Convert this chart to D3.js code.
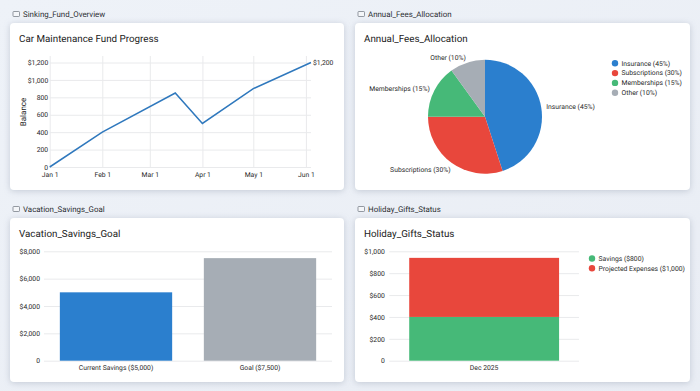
<!DOCTYPE html>
<html>
<head>
<meta charset="utf-8">
<script src="https://cdn.jsdelivr.net/npm/d3@7"></script>
<style>
    html, body { margin: 0; padding: 0; width: 700px; height: 391px; overflow: hidden; background: #edf1f7; }
    svg { display: block; }
    svg text { font-family: Roboto, sans-serif; text-rendering: geometricPrecision; }
    .card { fill: #fff; filter: drop-shadow(0 1px 3px rgba(90, 105, 130, 0.28)); }
    .panel-label { font-size: 7.9px; fill: #2c2f33; }
    .card-title { font-size: 9.8px; fill: #222; }
    .tick text, .small { font-size: 6.8px; fill: #2a2a2a; }
    .tick line { stroke: #e9eaec; stroke-width: 1; }
    .domain { display: none; }
</style>
</head>
<body>
<svg width="700" height="391"></svg>
<script>
const blue = "#2b7fce";
const red = "#e8473c";
const green = "#46b978";
const gray = "#a6adb5";

const panelLabels = ["Sinking_Fund_Overview", "Annual_Fees_Allocation", "Vacation_Savings_Goal", "Holiday_Gifts_Status"];
const cardTitles = ["Car Maintenance Fund Progress", "Annual_Fees_Allocation", "Vacation_Savings_Goal", "Holiday_Gifts_Status"];

const lineDates = ["2025-01-01", "2025-02-01", "2025-03-16", "2025-04-01", "2025-05-01", "2025-06-04"];
const lineValues = [0, 400, 850, 500, 900, 1200];
const lineTickDates = ["2025-01-01", "2025-02-01", "2025-03-01", "2025-04-01", "2025-05-01", "2025-06-01"];
const lineTickLabels = ["Jan 1", "Feb 1", "Mar 1", "Apr 1", "May 1", "Jun 1"];
const lineYTicks = [0, 200, 400, 600, 800, 1000, 1200];
const lineYLabels = ["0", "200", "400", "600", "800", "$1,000", "$1,200"];

const pieNames = ["Insurance (45%)", "Subscriptions (30%)", "Memberships (15%)", "Other (10%)"];
const pieValues = [45, 30, 15, 10];
const pieColors = [blue, red, green, gray];

const barNames = ["Current Savings ($5,000)", "Goal ($7,500)"];
const barValues = [5000, 7500];
const barColors = [blue, gray];
const barYTicks = [0, 2000, 4000, 6000, 8000];
const barYLabels = ["0", "$2,000", "$4,000", "$6,000", "$8,000"];

const stackCategory = ["Dec 2025"];
const stackSavings = [400];
const stackExpenses = [540];
const stackNames = ["Savings ($800)", "Projected Expenses ($1,000)"];
const stackColors = [green, red];
const stackYTicks = [0, 200, 400, 600, 800, 1000];
const stackYLabels = ["0", "$200", "$400", "$600", "$800", "$1,000"];

const svg = d3.select("svg");
const parseDay = d3.timeParse("%Y-%m-%d");

const defs = svg.append("defs");
const bg = defs.append("linearGradient").attr("id", "bg").attr("x1", 0).attr("y1", 0).attr("x2", 1).attr("y2", 1);
bg.append("stop").attr("offset", 0).attr("stop-color", "#eef2f8");
bg.append("stop").attr("offset", 1).attr("stop-color", "#e9edf4");
svg.append("rect").attr("width", 700).attr("height", 391).attr("fill", "url(#bg)");

const panels = [
    { x: 10, y: 23, w: 334, h: 167 },
    { x: 355, y: 23, w: 335, h: 167 },
    { x: 10, y: 218, w: 334, h: 164 },
    { x: 355, y: 218, w: 335, h: 164 }
];

panels.forEach((p, i) => {
    svg.append("rect").attr("class", "card")
        .attr("x", p.x).attr("y", p.y).attr("width", p.w).attr("height", p.h).attr("rx", 4);
    // small window icon in front of the label
    const iy = p.y - 11.5;
    svg.append("rect").attr("x", p.x + 3).attr("y", iy).attr("width", 6.5).attr("height", 5)
        .attr("rx", 0.8).attr("fill", "#f4f6f9").attr("stroke", "#6a717b").attr("stroke-width", 0.7);
    svg.append("text").attr("class", "panel-label")
        .attr("x", p.x + 13).attr("y", p.y - 6.2).text(panelLabels[i]);
    svg.append("text").attr("class", "card-title")
        .attr("x", p.x + 9).attr("y", p.y + 18.5).text(cardTitles[i]);
});

function labelFrom(ticks, labels) {
    return d => labels[ticks.indexOf(d)];
}

function drawYAxis(scaleY, ticks, labels, left, right, padding) {
    svg.append("g")
        .attr("transform", `translate(${left},0)`)
        .call(d3.axisLeft(scaleY)
            .tickValues(ticks)
            .tickSize(-(right - left))
            .tickPadding(padding)
            .tickFormat(labelFrom(ticks, labels)));
}

function drawLineChart() {
    const dates = lineDates.map(parseDay);
    const tickDates = lineTickDates.map(parseDay);
    const scX = d3.scaleTime()
        .domain([dates[0], dates[dates.length - 1]])
        .range([49.7, 311]);
    const scY = d3.scaleLinear().domain([0, 1200]).range([167, 62.5]);
    const top = 56;

    svg.append("g")
        .attr("transform", "translate(0,167)")
        .call(d3.axisBottom(scX)
            .tickValues(tickDates)
            .tickSize(-(167 - top))
            .tickPadding(5)
            .tickFormat((d, i) => lineTickLabels[i]));

    drawYAxis(scY, lineYTicks, lineYLabels, 49.7, 311, 1.5);

    const lineF = d3.line()
        .x((d, i) => scX(dates[i]))
        .y(d => scY(d));

    svg.append("path")
        .datum(lineValues)
        .attr("d", lineF)
        .attr("fill", "none")
        .attr("stroke", "#2f78bd")
        .attr("stroke-width", 1.5);

    svg.append("text").attr("class", "small")
        .attr("x", 313).attr("y", scY(1200)).attr("dy", "0.35em").text("$1,200");

    svg.append("text")
        .attr("transform", "translate(25.5,112) rotate(-90)")
        .attr("text-anchor", "middle")
        .attr("font-size", 8)
        .attr("fill", "#222")
        .text("Balance");
}

function drawPieChart() {
    const cx = 485, cy = 116.7, radius = 57;
    const arcs = d3.pie().sort(null)(pieValues);
    const arcF = d3.arc().innerRadius(0).outerRadius(radius);
    const labelArc = d3.arc().innerRadius(62).outerRadius(62);

    const g = svg.append("g").attr("transform", `translate(${cx},${cy})`);
    g.selectAll("path")
        .data(arcs)
        .enter()
        .append("path")
        .attr("d", arcF)
        .attr("fill", (d, i) => pieColors[i]);

    g.selectAll("text")
        .data(arcs)
        .enter()
        .append("text")
        .attr("class", "small")
        .attr("transform", d => {
            const [x, y] = labelArc.centroid(d);
            // labels under the pie sit a little lower and closer in
            return y > 20 ? `translate(${x + 2},${y + 2.5})` : `translate(${x},${y})`;
        })
        .attr("dy", "0.35em")
        .attr("text-anchor", d => (d.startAngle + d.endAngle) / 2 < Math.PI ? "start" : "end")
        .text((d, i) => pieNames[i]);

    drawLegend(pieNames, pieColors, 615, 63.3, 9.8);
}

function drawLegend(names, legendColors, x, y, step) {
    names.forEach((name, i) => {
        svg.append("circle")
            .attr("cx", x).attr("cy", y + i * step).attr("r", 3.2)
            .attr("fill", legendColors[i]);
        svg.append("text").attr("class", "small")
            .attr("x", x + 6.5).attr("y", y + i * step).attr("dy", "0.35em")
            .text(name);
    });
}

function drawBarChart() {
    const left = 44, right = 332;
    const scX = d3.scaleBand().domain(barNames).range([left, right])
        .paddingInner(0.22).paddingOuter(0.11);
    const scY = d3.scaleLinear().domain([0, 8000]).range([360.7, 251.3]);

    drawYAxis(scY, barYTicks, barYLabels, left, right, 4);

    svg.selectAll(".bar")
        .data(barValues)
        .enter()
        .append("rect")
        .attr("class", "bar")
        .attr("x", (d, i) => scX(barNames[i]))
        .attr("y", d => scY(d))
        .attr("width", scX.bandwidth())
        .attr("height", d => scY(0) - scY(d))
        .attr("fill", (d, i) => barColors[i]);

    svg.append("g")
        .attr("transform", "translate(0,360.7)")
        .call(d3.axisBottom(scX).tickSize(0).tickPadding(4));
}

function drawStackChart() {
    const left = 389.3, right = 579;
    const scX = d3.scaleBand().domain(stackCategory).range([left, right])
        .paddingInner(0.21).paddingOuter(0.105);
    const scY = d3.scaleLinear().domain([0, 1000]).range([360.7, 251.3]);

    drawYAxis(scY, stackYTicks, stackYLabels, left, right, 4.5);

    const rows = stackCategory.map((c, i) => ({ cat: c, savings: stackSavings[i], expenses: stackExpenses[i] }));
    const layers = d3.stack().keys(["savings", "expenses"])(rows);

    layers.forEach((layer, k) => {
        svg.selectAll(`.stack-${k}`)
            .data(layer)
            .enter()
            .append("rect")
            .attr("class", `stack-${k}`)
            .attr("x", d => scX(d.data.cat))
            .attr("y", d => scY(d[1]))
            .attr("width", scX.bandwidth())
            .attr("height", d => scY(d[0]) - scY(d[1]))
            .attr("fill", stackColors[k]);
    });

    svg.append("g")
        .attr("transform", "translate(0,360.7)")
        .call(d3.axisBottom(scX).tickSize(0).tickPadding(4));

    drawLegend(stackNames, stackColors, 592, 258.5, 9.8);
}

drawLineChart();
drawPieChart();
drawBarChart();
drawStackChart();
</script>
</body>
</html>
